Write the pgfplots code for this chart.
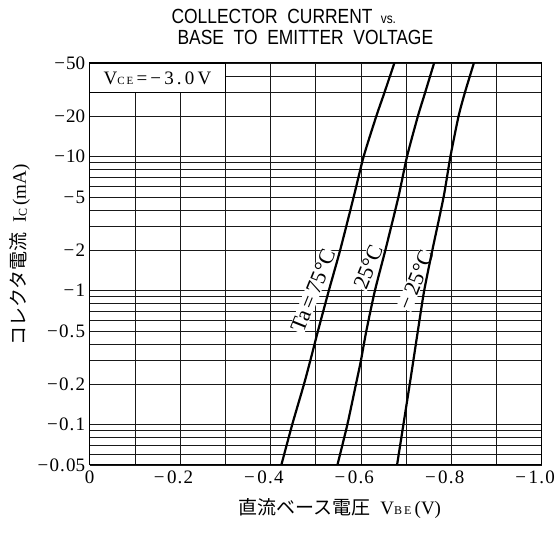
\documentclass[border=0pt]{standalone}
\usepackage{pgfplots}
\pgfplotsset{compat=1.18}
\usepackage{fontspec}
\setmainfont{Liberation Serif}
\newfontfamily\cjk{Noto Sans CJK JP}
\newfontfamily\titlefont[FakeStretch=0.85]{Liberation Sans}
\newcommand\mi{\llap{−\kern2.5pt}}
\newcommand\s{\kern1.2pt}
\begin{document}
\begin{tikzpicture}
\begin{axis}[
  scale only axis, width=452pt, height=402pt,
  at={(0,0)}, anchor=south west,
  xmin=0, xmax=1, ymin=0.05, ymax=50, ymode=log,
  xtick={0,0.2,0.4,0.6,0.8,1},
  xticklabels={0,\mi0\s.\s2,\mi0\s.\s4,\mi0\s.\s6,\mi0\s.\s8,\mi1\s.\s0},
  minor xtick={0.1,0.3,0.5,0.7,0.9},
  ytick={0.05,0.1,0.2,0.5,1,2,5,10,20,50},
  yticklabels={−\s0\s.\s05,−\s0\s.\s1,−\s0\s.\s2,−\s0\s.\s5,−\s1,−\s2,−\s5,−\s10,−\s20,−\s50},
  minor ytick={0.06,0.07,0.08,0.09,0.3,0.4,0.6,0.7,0.8,0.9,3,4,6,7,8,9,30,40},
  grid=both,
  major grid style={black!90, line width=0.65pt},
  minor grid style={black!90, line width=0.65pt},
  major tick length=0pt, minor tick length=0pt,
  axis line style={line width=1pt},
  ticklabel style={font=\fontsize{19}{19}\selectfont},
  xticklabel style={yshift=-2pt},
  yticklabel style={xshift=-1pt},
]
\draw[fill=white, line width=0.65pt] (axis cs:0,30) rectangle (axis cs:0.3,50);
\node[font=\fontsize{19}{19}\selectfont] at (axis cs:0.15,38.7) {V{\fontsize{11}{11}\selectfont C\,E}\,=\,−\,3\,.\,0\,V};

\node[rotate=68, fill=white, inner sep=0.5pt, font=\fontsize{22}{22}\selectfont] at (axis cs:0.494,1.0) {Ta\,=\,75°C};
\node[rotate=68, fill=white, inner sep=0.5pt, font=\fontsize{22}{22}\selectfont] at (axis cs:0.616,1.5) {25°C};
\node[rotate=68, fill=white, inner sep=0.5pt, font=\fontsize{22}{22}\selectfont] at (axis cs:0.721,1.2) {−\,25°C};

\addplot[black, line width=2.2pt, smooth, tension=0.4] coordinates {
 (0.424,0.05) (0.448,0.1) (0.474,0.2) (0.488,0.3) (0.505,0.5) (0.529,1)
 (0.554,2) (0.584,5) (0.606,10) (0.634,20) (0.652,30) (0.674,50)};
\addplot[black, line width=2.2pt, smooth, tension=0.4] coordinates {
 (0.548,0.05) (0.570,0.1) (0.589,0.2) (0.600,0.3) (0.612,0.5) (0.631,1)
 (0.654,2) (0.683,5) (0.702,10) (0.726,20) (0.742,30) (0.762,50)};
\addplot[black, line width=2.2pt, smooth, tension=0.4] coordinates {
 (0.680,0.05) (0.694,0.1) (0.708,0.2) (0.716,0.3) (0.726,0.5) (0.740,1)
 (0.758,2) (0.783,5) (0.798,10) (0.816,20) (0.830,30) (0.850,50)};
\end{axis}
\node[anchor=base west, font=\titlefont\fontsize{20.5}{20.5}\selectfont] at (78.3pt,441pt) {COLLECTOR\ \ CURRENT\ \,{\fontsize{14}{14}\selectfont vs.}};
\node[anchor=base west, font=\titlefont\fontsize{20.5}{20.5}\selectfont] at (84.3pt,420.5pt) {BASE\ \ TO\ \ EMITTER\ \ VOLTAGE};
\node[rotate=90, font=\fontsize{19}{19}\selectfont] at (-69.7pt,210pt) {{\cjk コレクタ電流}\ \ I\raisebox{-1pt}{\fontsize{12}{12}\selectfont C}\,(mA)};
\node[font=\fontsize{19}{19}\selectfont] at (250.3pt,-44pt) {{\cjk 直流ベース電圧}\ \ V{\fontsize{12}{12}\selectfont B\,E}\,(V)};
\pgfresetboundingbox
\path (-89.7pt,-69pt) rectangle (468.3pt,465pt);
\end{tikzpicture}
\end{document}
